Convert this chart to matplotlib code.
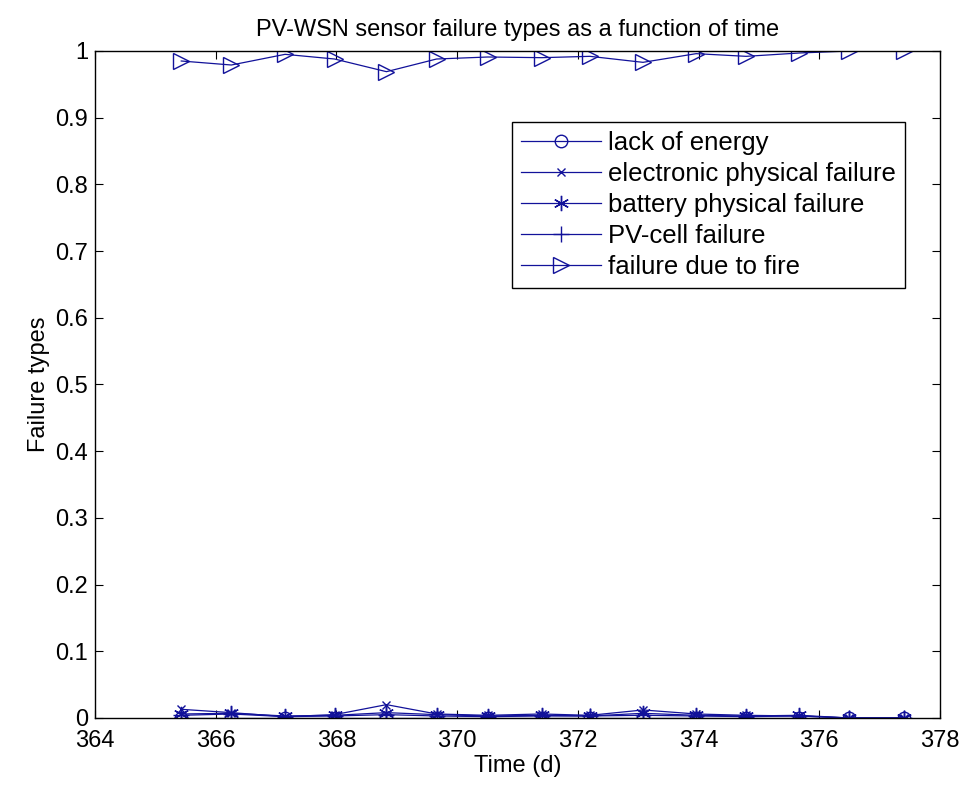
import matplotlib
matplotlib.use("Agg")
import matplotlib.pyplot as plt
import numpy as np

plt.rcParams['font.family'] = ['Liberation Sans', 'DejaVu Sans']

# time of each sample (days)
t = [365.43, 366.26, 367.15, 367.97, 368.83, 369.66, 370.51, 371.40,
     372.20, 373.08, 373.96, 374.79, 375.67, 376.50, 377.41]

lack_energy = [0, 0, 0, 0, 0, 0, 0, 0, 0, 0, 0, 0, 0, 0, 0]
electronic = [0.013, 0.008, 0.002, 0.005, 0.020, 0.006, 0.004, 0.006,
              0.004, 0.012, 0.006, 0.004, 0.003, 0, 0]
battery = [0.006, 0.007, 0.003, 0.004, 0.008, 0.005, 0.003, 0.004,
           0.003, 0.007, 0.004, 0.003, 0.004, 0, 0]
pv_cell = [0.004, 0.006, 0.002, 0.003, 0.005, 0.003, 0.002, 0.003,
           0.003, 0.004, 0.003, 0.002, 0.003, 0, 0]
fire = [0.985, 0.979, 0.995, 0.988, 0.969, 0.988, 0.991, 0.990,
        0.992, 0.983, 0.996, 0.992, 0.997, 1.0, 1.0]

labels = ['lack of energy', 'electronic physical failure',
          'battery physical failure', 'PV-cell failure', 'failure due to fire']

col = '#12129a'
fs = 17

fig = plt.figure(figsize=(9.66, 7.87), dpi=100)
ax = fig.add_axes([0.0983, 0.0877, 0.8747, 0.8475])

ax.plot(t, lack_energy, color=col, lw=0.9, marker='o', ms=9, mfc='none', mew=1, label=labels[0])
ax.plot(t, electronic, color=col, lw=0.9, marker='x', ms=6, mew=1, label=labels[1])
ax.plot(t, battery, color=col, lw=0.9, marker=(6, 2, 0), ms=11, mew=1, label=labels[2])
ax.plot(t, pv_cell, color=col, lw=0.9, marker='+', ms=11, mew=1, label=labels[3])
ax.plot(t, fire, color=col, lw=0.9, marker='>', ms=11, mfc='none', mew=1, label=labels[4])

ax.set_xlim(364, 378)
ax.set_ylim(0, 1)
ax.set_xticks(np.arange(364, 379, 2))
ax.set_yticks(np.arange(0, 1.01, 0.1))
ax.set_yticklabels(['0', '0.1', '0.2', '0.3', '0.4', '0.5', '0.6', '0.7', '0.8', '0.9', '1'])
ax.tick_params(direction='in', top=True, right=True, labelsize=fs, length=6, width=0.8)
ax.tick_params(axis='x', pad=9)
ax.tick_params(axis='y', pad=5)
for s in ax.spines.values():
    s.set_linewidth(1)

ax.set_title('PV-WSN sensor failure types as a function of time', fontsize=fs, pad=11)
ax.set_xlabel('Time (d)', fontsize=fs, labelpad=2)
ax.set_ylabel('Failure types', fontsize=fs, labelpad=4)

leg = ax.legend(loc='upper right', bbox_to_anchor=(0.959, 0.894), fontsize=18.5,
                fancybox=False, edgecolor='black', framealpha=1,
                handlelength=3.1, borderpad=0.35, labelspacing=0.28,
                handletextpad=0.3, borderaxespad=0)
leg.get_frame().set_linewidth(1)

fig.savefig('out.png', dpi=100)
